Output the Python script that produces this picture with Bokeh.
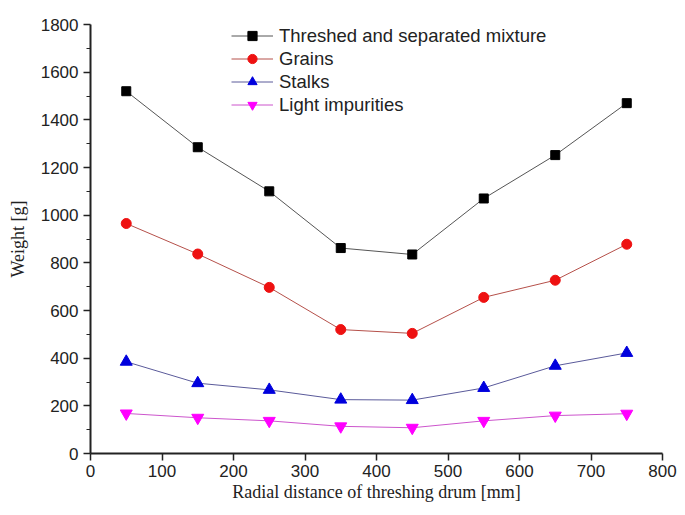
from bokeh.plotting import figure
from bokeh.embed import file_html
from bokeh.resources import INLINE
from bokeh.models import Range1d, Legend, LegendItem, FixedTicker

x = [50, 150, 250, 350, 450, 550, 650, 750]
mixture = [1520, 1285, 1100, 862, 835, 1070, 1252, 1470]
grains = [965, 837, 697, 520, 504, 655, 727, 878]
stalks = [385, 295, 267, 226, 224, 275, 368, 422]
light = [168, 150, 137, 114, 108, 137, 159, 167]

p = figure(width=677, height=507, output_backend="svg", toolbar_location=None,
           x_range=Range1d(0, 800), y_range=Range1d(0, 1800),
           min_border_left=90, min_border_right=15, min_border_top=24, min_border_bottom=54)
p.outline_line_color = None
p.grid.visible = False
p.background_fill_color = "white"

items = []
specs = [
    (mixture, "Threshed and separated mixture", "#555555", "black", "square", 9),
    (grains, "Grains", "#b5504a", "#ee1111", "circle", 10),
    (stalks, "Stalks", "#5a5a9a", "#0000dd", "triangle", 12),
    (light, "Light impurities", "#cc55cc", "#ff00ff", "inverted_triangle", 12),
]
for ys, name, lc, mc, mk, sz in specs:
    l = p.line(x, ys, line_color=lc, line_width=1)
    s = p.scatter(x, ys, marker=mk, size=sz, fill_color=mc, line_color=mc)
    items.append(LegendItem(label=name, renderers=[l, s]))

leg = Legend(items=items, location=(141, 337), border_line_color=None,
             background_fill_alpha=0, label_text_font="Liberation Sans",
             label_text_font_size="18.5px", label_text_color="#222222",
             glyph_width=42, glyph_height=23, label_height=23, label_standoff=6,
             spacing=0, padding=0, margin=0)
p.add_layout(leg)

for ax in (p.xaxis, p.yaxis):
    ax.axis_line_width = 2
    ax.axis_line_color = "#222222"
    ax.major_tick_line_color = "#222222"
    ax.minor_tick_line_color = "#222222"
    ax.major_tick_line_width = 1.5
    ax.major_tick_in = 0
    ax.major_tick_out = 7
    ax.minor_tick_in = 0
    ax.minor_tick_out = 4
    ax.major_label_text_font = "Liberation Sans"
    ax.major_label_text_font_size = "17px"
    ax.major_label_text_color = "#222222"
    ax.axis_label_text_font = "Liberation Serif"
    ax.axis_label_text_font_size = "18px"
    ax.axis_label_text_font_style = "normal"
    ax.axis_label_text_color = "#222222"

p.xaxis.ticker = FixedTicker(ticks=list(range(0, 801, 100)))
p.yaxis.ticker = FixedTicker(ticks=list(range(0, 1801, 200)), minor_ticks=list(range(100, 1800, 200)))
p.xaxis.major_label_standoff = 4
p.xaxis.axis_label = "Radial distance of threshing drum [mm]"
p.xaxis.axis_label_standoff = 2
p.yaxis.axis_label = "Weight [g]"
p.yaxis.axis_label_standoff = 10

open("out.html", "w").write(file_html(p, INLINE))
